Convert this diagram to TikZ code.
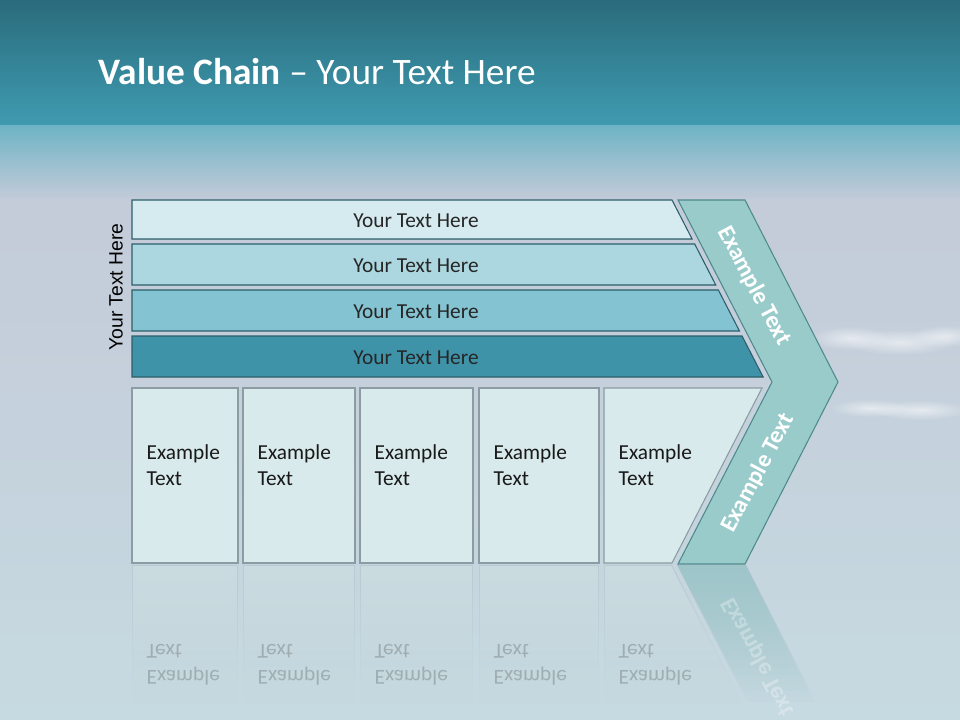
\documentclass[tikz,border=0pt]{standalone}
\usepackage{fontspec}
\setmainfont{Carlito}
\newfontfamily\sidefont{Liberation Sans}
\usepackage{tikz}
\usetikzlibrary{fadings}
\definecolor{bandtop}{HTML}{2A6C7C}
\definecolor{bandlow}{HTML}{3F9BB1}
\definecolor{skytop}{HTML}{C4CBD9}
\definecolor{skylow}{HTML}{C6DAE1}
\definecolor{rowA}{HTML}{D6EBF0}
\definecolor{rowB}{HTML}{ACD7E0}
\definecolor{rowC}{HTML}{84C3D2}
\definecolor{rowD}{HTML}{3F93A9}
\definecolor{rowline}{HTML}{2C5E6A}
\definecolor{boxfill}{HTML}{D8EAEC}
\definecolor{boxline}{HTML}{8C9CA2}
\definecolor{chevfill}{HTML}{99CBCB}
\definecolor{chevline}{HTML}{4E8A8D}
\tikzfading[name=fade down, top color=transparent!45, bottom color=transparent!100]
\tikzfading[name=soft blob, inner color=transparent!30, outer color=transparent!100]

\begin{document}
\begin{tikzpicture}[x=0.75pt, y=-0.75pt,
  rowbar/.style={draw=rowline, line width=0.8pt},
  colbox/.style={draw=boxline, line width=0.8pt, fill=boxfill},
  chevron/.style={draw=chevline, line width=0.8pt, fill=chevfill},
  rowtext/.style={text=black!85, font=\fontsize{16}{19}\selectfont},
  boxtext/.style={anchor=west, align=left, text=black!90, font=\fontsize{16}{19.5}\selectfont},
  chevtext/.style={text=white, font=\fontsize{18}{21}\selectfont\bfseries},
  mirror/.style={yscale=-1, text opacity=0.22}]
\useasboundingbox (0,0) rectangle (960,720);
% Background
\shade[top color=bandtop, bottom color=bandlow] (0,0) rectangle (960,126);
\shade[top color=bandlow!75!white, bottom color=skytop] (0,126) rectangle (960,200);
\shade[top color=skytop, bottom color=skylow] (0,200) rectangle (960,720);
% Clouds
\foreach \x/\y/\rx/\ry in {850/338/40/12, 900/342/55/13, 945/336/35/11, 870/408/40/9, 920/410/50/10}
  \fill[white, opacity=0.8, path fading=soft blob] (\x,\y) ellipse [x radius=\rx, y radius=\ry];
% Title
\node[anchor=base west, text=white, font=\fontsize{28}{34}\selectfont] (title) at (94,85) {\textbf{Value Chain} -- Your Text Here};
% Side label
\node[rotate=90, font=\sidefont\fontsize{14.5}{17}\selectfont] (side) at (116,287) {Your Text Here};
% Rows
\foreach \t/\b/\c/\n in {200/239/rowA/1, 244/285/rowB/2, 290/331/rowC/3, 336/377/rowD/4} {
  \draw[rowbar, fill=\c] (132,\t) -- ({672+0.515*(\t-200)},\t) -- ({672+0.515*(\b-200)},\b) -- (132,\b) -- cycle;
  \node[rowtext] (row\n) at (416,{(\t+\b)/2+1}) {Your Text Here};
}
% Columns
\foreach \l/\r/\n in {132/238/1, 243/355/2, 360/473/3, 479/599/4} {
  \draw[colbox] (\l,388) rectangle (\r,563);
  \node[boxtext] (col\n) at ({\l+10},465) {Example\\Text};
}
\draw[colbox] (604,388) -- (762,388) -- (672,563) -- (604,563) -- cycle;
\node[boxtext] (col5) at (614,465) {Example\\Text};
% Chevron
\draw[chevron] (678,200) -- (745,200) -- (838,382) -- (745,564) -- (678,564) -- (772,382) -- cycle;
\node[chevtext, rotate=-62] (chevtop) at (754,286) {Example Text};
\node[chevtext, rotate=62] (chevlow) at (758,473) {Example Text};
% Reflection
\foreach \l/\r in {132/238, 243/355, 360/473, 479/599}
  \fill[boxline, path fading=fade down, fill opacity=0.35] (\l,565) rectangle (\r,705);
\foreach \l/\r in {133/237, 244/354, 361/472, 480/598}
  \fill[boxfill, path fading=fade down] (\l,566) rectangle (\r,705);
\fill[boxline, path fading=fade down, fill opacity=0.35] (604,565) -- (672,565) -- (744,705) -- (604,705) -- cycle;
\fill[boxfill, path fading=fade down] (605,566) -- (671,566) -- (743,705) -- (605,705) -- cycle;
\fill[chevline, path fading=fade down, fill opacity=0.5] (677,565) -- (746,565) -- (816,702) -- (747,702) -- cycle;
\fill[chevfill, path fading=fade down] (679,566) -- (745,566) -- (814,702) -- (749,702) -- cycle;
\foreach \l/\n in {132/1, 243/2, 360/3, 479/4, 604/5}
  \node[boxtext, mirror] (echo\n) at ({\l+10},665) {Example\\Text};
\node[chevtext, rotate=-62, mirror, text opacity=0.3] (echochev) at (758,657) {Example Text};
\end{tikzpicture}
\end{document}
